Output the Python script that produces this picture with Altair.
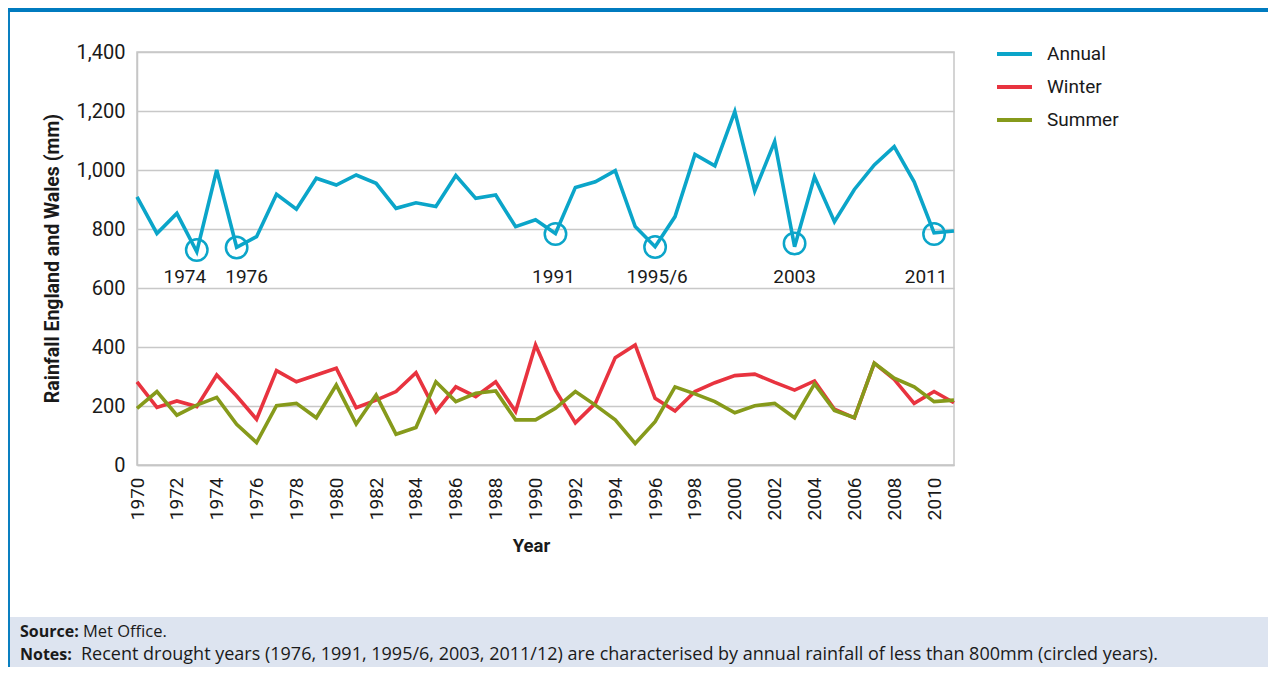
import altair as alt
import pandas as pd

# ---------------- data ----------------
years = list(range(1970, 2012))
annual = [909, 785, 853, 723, 1000, 738, 774, 918, 867, 972,
          949, 983, 955, 870, 889, 876, 981, 904, 915, 808,
          831, 785, 941, 960, 998, 808, 740, 842, 1053, 1014,
          1198, 929, 1096, 740, 977, 825, 934, 1017, 1079, 960,
          787, 793]
winter = [282, 195, 217, 198, 305, 234, 155, 320, 282, 305,
          328, 194, 220, 249, 313, 181, 265, 232, 282, 181,
          407, 254, 143, 209, 364, 407, 226, 183, 249, 279,
          303, 308, 280, 254, 285, 189, 160, 345, 290, 209,
          249, 211]
summer = [192, 249, 169, 203, 229, 138, 76, 201, 209, 160,
          271, 139, 237, 104, 127, 282, 215, 243, 251, 153,
          153, 192, 249, 203, 153, 73, 147, 265, 241, 215,
          177, 201, 209, 160, 275, 185, 160, 345, 294, 265,
          215, 220]
series_names = ["Annual", "Winter", "Summer"]
series_colors = ["#0ba5c9", "#e8333f", "#869a1b"]

circle_years = [1973, 1975, 1991, 1996, 2003, 2010]
circle_values = [729, 737, 783, 739, 751, 783]
label_text = ["1974", "1976", "1991", "1995/6", "2003", "2011"]
label_years = [1972.4, 1975.5, 1990.9, 1996.1, 2003.0, 2009.6]
label_values = [637, 637, 637, 637, 637, 637]

x_ticks = list(range(1970, 2011, 2))
y_ticks = [0, 200, 400, 600, 800, 1000, 1200, 1400]

source_bold = "Source:"
source_text = "Met Office."
notes_bold = "Notes:"
notes_text = ("Recent drought years (1976, 1991, 1995/6, 2003, 2011/12) are characterised "
              "by annual rainfall of less than 800mm (circled years).")

# ---------------- tables ----------------
long_df = pd.DataFrame({
    "Year": years * 3,
    "Series": ["Annual"] * len(years) + ["Winter"] * len(years) + ["Summer"] * len(years),
    "Rainfall": annual + winter + summer,
})
circle_df = pd.DataFrame({"Year": circle_years, "Rainfall": circle_values})
label_df = pd.DataFrame({"Year": label_years, "Rainfall": label_values, "Label": label_text})
one = pd.DataFrame({"a": [0]})

FONT = "Roboto"
FOOT_FONT = "Open Sans"
W, H = 817, 413

x_enc = alt.X("Year:Q",
              scale=alt.Scale(domain=[1970, 2011], nice=False, zero=False),
              axis=alt.Axis(values=x_ticks, format="d", labelAngle=-90, title="Year",
                            titleX=394, titleY=80, titleAlign="center", titleBaseline="middle",
                            labelPadding=12, labelFontSize=19))
y_enc = alt.Y("Rainfall:Q",
              scale=alt.Scale(domain=[0, 1400], nice=False),
              axis=alt.Axis(values=y_ticks, format=",d", title="Rainfall England and Wales (mm)",
                            titleX=-85, titleY=206, titleAngle=-90, titleAlign="center",
                            titleBaseline="middle", grid=True, labelPadding=12,
                            labelFontSize=20, titleFontSize=19.5))

footer = alt.Chart(one).mark_rect(color="#dde4f0").encode(
    x=alt.value(-127), x2=alt.value(1131), y=alt.value(565), y2=alt.value(615))
border_left = alt.Chart(one).mark_rect(color="#0a7fc0").encode(
    x=alt.value(-129), x2=alt.value(-127), y=alt.value(-44), y2=alt.value(615))
border_top = alt.Chart(one).mark_rect(color="#007bbf").encode(
    x=alt.value(-129), x2=alt.value(1131), y=alt.value(-44), y2=alt.value(-40))

lines = alt.Chart(long_df).mark_line(strokeWidth=3.6).encode(
    x=x_enc, y=y_enc,
    color=alt.Color("Series:N",
                    scale=alt.Scale(domain=series_names, range=series_colors),
                    sort=series_names,
                    legend=alt.Legend(title=None, orient="none", legendX=858, legendY=-7,
                                      symbolType="stroke", symbolSize=1225,
                                      symbolStrokeWidth=4, labelFontSize=19, labelFont=FONT,
                                      labelColor="#1a1a1a", labelOffset=13, clipHeight=18,
                                      rowPadding=14, padding=0)),
    detail="Series:N",
)

circles = alt.Chart(circle_df).mark_point(shape="circle", filled=False, size=460,
                                          strokeWidth=2.5, color="#0ba5c9", opacity=1).encode(
    x=x_enc, y=y_enc)

labels = alt.Chart(label_df).mark_text(fontSize=19, font=FONT, color="#1a1a1a",
                                       align="center", baseline="middle").encode(
    x=x_enc, y=y_enc, text="Label:N")

foot_src_b = alt.Chart(one).mark_text(text=source_bold, fontWeight="bold", fontSize=16, font=FOOT_FONT,
                                      align="left", baseline="middle", color="#1a1a1a").encode(
    x=alt.value(-117), y=alt.value(580))
foot_src = alt.Chart(one).mark_text(text=source_text, fontSize=16.5, font=FOOT_FONT,
                                    align="left", baseline="middle", color="#1a1a1a").encode(
    x=alt.value(-54), y=alt.value(580))
foot_note_b = alt.Chart(one).mark_text(text=notes_bold, fontWeight="bold", fontSize=16, font=FOOT_FONT,
                                       align="left", baseline="middle", color="#1a1a1a").encode(
    x=alt.value(-117), y=alt.value(603))
foot_note = alt.Chart(one).mark_text(text=notes_text, fontSize=18, font=FOOT_FONT,
                                     align="left", baseline="middle", color="#1a1a1a").encode(
    x=alt.value(-56), y=alt.value(603))

chart = alt.layer(
    footer, border_left, border_top, lines, circles, labels,
    foot_src_b, foot_src, foot_note_b, foot_note,
).properties(
    width=W, height=H,
    autosize=alt.AutoSizeParams(type="none"),
    padding={"left": 129, "top": 44, "right": 314, "bottom": 202},
).configure_view(
    stroke="#c6c6c6", strokeWidth=1.5,
).configure_axis(
    labelFont=FONT, labelColor="#1a1a1a",
    titleFont=FONT, titleFontSize=18.5, titleFontWeight="bold", titleColor="#1a1a1a",
    domainColor="#c6c6c6", domainWidth=1.5,
    gridColor="#c8c8c8", gridWidth=1.5,
    ticks=False, tickSize=0,
).configure_axisX(grid=False)

chart.save("out.html", embed_options={"renderer": "svg", "actions": False})
